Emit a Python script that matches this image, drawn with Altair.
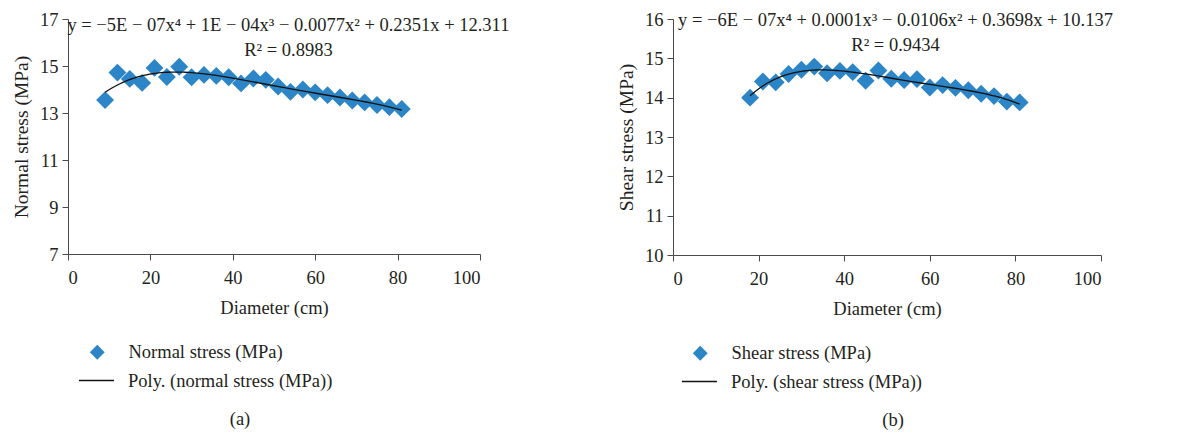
import altair as alt
import pandas as pd

# ---- data ----
diam_a = [9, 12, 15, 18, 21, 24, 27, 30, 33, 36, 39, 42, 45, 48, 51, 54, 57, 60, 63, 66, 69, 72, 75, 78, 81]
normal = [13.55, 14.72, 14.45, 14.28, 14.92, 14.53, 14.97, 14.52, 14.62, 14.58, 14.52, 14.26, 14.47, 14.41,
          14.13, 13.9, 14.0, 13.88, 13.76, 13.66, 13.53, 13.45, 13.34, 13.25, 13.17]
diam_b = [18, 21, 24, 27, 30, 33, 36, 39, 42, 45, 48, 51, 54, 57, 60, 63, 66, 69, 72, 75, 78, 81]
shear = [14.0, 14.41, 14.39, 14.6, 14.71, 14.79, 14.62, 14.68, 14.65, 14.43, 14.69, 14.48, 14.45, 14.47,
         14.26, 14.32, 14.25, 14.19, 14.1, 14.04, 13.9, 13.88]

x_ticks = [0, 20, 40, 60, 80, 100]
y_ticks_a = [7, 9, 11, 13, 15, 17]
y_ticks_b = [10, 11, 12, 13, 14, 15, 16]

eq_a = ["y = −5E − 07x⁴ + 1E − 04x³ − 0.0077x² + 0.2351x + 12.311", "R² = 0.8983"]
eq_b = ["y = −6E − 07x⁴ + 0.0001x³ − 0.0106x² + 0.3698x + 10.137", "R² = 0.9434"]

FONT = "Liberation Serif"
BLUE = "#2b85c6"
TXT = "#231f20"
AX = "#4a4a4a"
FS = 18.5


def panel(xs, ys, ydom, yticks, ytitle, pt_label, fit_label, eqs, eq_pos, caption, cap_x, w, h, leg_x):
    df = pd.DataFrame({"d": xs, "v": ys, "series": pt_label})
    xsc = alt.Scale(domain=[0, 100], nice=False)
    ysc = alt.Scale(domain=ydom, nice=False, zero=False)
    xax = alt.Axis(values=x_ticks, grid=False, labelPadding=8, titlePadding=12)
    yax = alt.Axis(values=yticks, grid=False, titleFontSize=19.5, titlePadding=8)
    X = alt.X("d:Q", scale=xsc, title="Diameter (cm)", axis=xax)
    Y = alt.Y("v:Q", scale=ysc, title=ytitle, axis=yax)
    base = alt.Chart(df)
    pts = base.mark_point(shape="diamond", filled=True, size=320, opacity=1).encode(
        x=X, y=Y,
        color=alt.Color("series:N", scale=alt.Scale(domain=[pt_label], range=[BLUE]),
                        legend=alt.Legend(title=None, orient="none", legendX=leg_x, legendY=h + 89,
                                          symbolType="diamond", symbolSize=220, labelFontSize=FS,
                                          labelFont=FONT, labelColor=TXT, labelOffset=22, labelLimit=0)),
    )
    fit = base.transform_regression("d", "v", method="poly", order=4).transform_calculate(
        fit=f"'{fit_label}'"
    ).mark_line(strokeWidth=1.3).encode(
        x=X, y=Y,
        stroke=alt.Stroke("fit:N", scale=alt.Scale(domain=[fit_label], range=["#111111"]),
                          legend=alt.Legend(title=None, orient="none", legendX=leg_x - 10, legendY=h + 108,
                                            symbolType="stroke", symbolSize=1225, symbolStrokeWidth=1.3,
                                            labelFontSize=FS, labelFont=FONT, labelColor=TXT, labelOffset=13,
                                            labelLimit=0)),
    )
    eqdf = pd.DataFrame({"t": eqs, "x": [eq_pos[0], eq_pos[0]], "y": eq_pos[1:]})
    eqt = alt.Chart(eqdf).mark_text(font=FONT, fontSize=18.5, color=TXT).encode(
        x=alt.X("x:Q", scale=xsc, axis=xax, title="Diameter (cm)"),
        y=alt.Y("y:Q", scale=ysc, axis=yax, title=ytitle),
        text="t:N",
    )
    cap = alt.Chart(pd.DataFrame({"c": [caption]})).mark_text(
        font=FONT, fontSize=FS, color=TXT
    ).encode(x=alt.value(cap_x), y=alt.value(h + 165), text="c:N")
    return alt.layer(pts, fit, eqt, cap).resolve_legend(color="independent", stroke="independent").properties(
        width=w, height=h,
    )


left = panel(diam_a, normal, [7, 17], y_ticks_a, "Normal stress (MPa)", "Normal stress (MPa)",
             "Poly. (normal stress (MPa))", eq_a, (53.5, 16.74, 15.68), "(a)", 172, 412, 235, 20)
right = panel(diam_b, shear, [10, 16], y_ticks_b, "Shear stress (MPa)", "Shear stress (MPa)",
              "Poly. (shear stress (MPa))", eq_b, (52, 15.98, 15.33), "(b)", 220, 428, 236, 18)

chart = alt.hconcat(left, right, spacing=106).resolve_scale(
    color="independent", stroke="independent"
).configure_view(stroke=None).configure_axis(
    labelFont=FONT, titleFont=FONT, labelFontSize=FS, titleFontSize=FS, labelColor=TXT, titleColor=TXT,
    titleFontWeight="normal", domainColor=AX, tickColor=AX, tickSize=6, labelPadding=4,
).properties(padding={"left": 11, "top": 10, "right": 5, "bottom": 0}, background="white")

chart.save("out.html", embed_options={"renderer": "svg", "actions": False})
